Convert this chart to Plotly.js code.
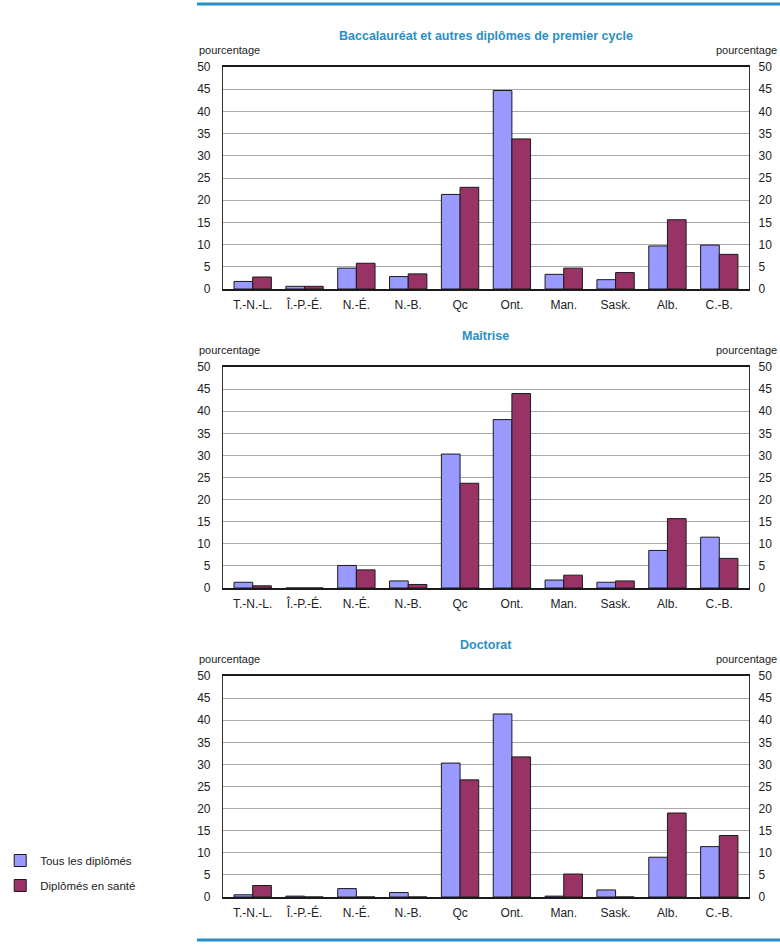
<!DOCTYPE html>
<html>
<head>
<meta charset="utf-8">
<script src="https://cdn.plot.ly/plotly-3.0.1.min.js"></script>
<style>
  html, body { margin: 0; padding: 0; background: #ffffff; }
  #chart { width: 780px; height: 945px; }
</style>
</head>
<body>
<div id="chart"></div>
<script>
// Provinces (abbreviations in French)
const provinces = ["T.-N.-L.", "Î.-P.-É.", "N.-É.", "N.-B.", "Qc", "Ont.", "Man.", "Sask.", "Alb.", "C.-B."];

// Share of graduates by province, per cent
const bacTous    = [1.7, 0.6, 4.7, 2.8, 21.3, 44.7, 3.3, 2.1, 9.7, 9.9];
const bacSante   = [2.7, 0.6, 5.8, 3.4, 22.9, 33.8, 4.7, 3.7, 15.6, 7.8];
const maiTous    = [1.3, 0.0, 5.1, 1.6, 30.3, 38.1, 1.8, 1.3, 8.5, 11.5];
const maiSante   = [0.5, 0.0, 4.1, 0.8, 23.7, 44.0, 2.9, 1.6, 15.7, 6.7];
const docTous    = [0.5, 0.2, 1.9, 1.0, 30.3, 41.4, 0.2, 1.6, 9.0, 11.4];
const docSante   = [2.6, 0.0, 0.0, 0.0, 26.5, 31.7, 5.2, 0.0, 19.0, 13.9];

const seriesNames = ["Tous les diplômés", "Diplômés en santé"];
const panelTitles = ["Baccalauréat et autres diplômes de premier cycle", "Maîtrise", "Doctorat"];
const yTitle = "pourcentage";
const yTicks = [0, 5, 10, 15, 20, 25, 30, 35, 40, 45, 50];

const BLUE = "#9999ff";
const PLUM = "#993366";
const ACCENT = "#2a8fc4";
const FONT = "Liberation Sans, Arial, sans-serif";

const W = 780, H = 945;
const px = v => v / W;          // horizontal pixel -> paper
const py = v => 1 - v / H;      // vertical pixel (from top) -> paper

// plot boxes: [top, bottom] in pixels from the top of the page
const boxes = [[67, 289], [367, 588], [676, 897]];
const xDom = [px(214), px(748)];

const panels = [
  [bacTous, bacSante],
  [maiTous, maiSante],
  [docTous, docSante]
];

const traces = [];
panels.forEach((pair, i) => {
  const sfx = i === 0 ? "" : String(i + 1);
  pair.forEach((vals, j) => {
    traces.push({
      type: "bar",
      x: provinces,
      y: vals,
      name: seriesNames[j],
      legendgroup: "g" + j,
      showlegend: i === 0,
      xaxis: "x" + sfx,
      yaxis: "y" + sfx,
      marker: { color: j === 0 ? BLUE : PLUM, line: { color: "#1a1a1a", width: 1 } },
      hoverinfo: "x+y+name"
    });
  });
  // transparent companion trace so the right-hand percentage scale is rendered
  traces.push({
    type: "scatter",
    mode: "markers",
    x: provinces,
    y: pair[0],
    xaxis: "x" + sfx,
    yaxis: "y" + (i + 4),
    marker: { opacity: 0, size: 1 },
    showlegend: false,
    hoverinfo: "skip"
  });
});

const layout = {
  width: W, height: H,
  margin: { l: 0, r: 0, t: 0, b: 0 },
  paper_bgcolor: "#ffffff",
  plot_bgcolor: "#ffffff",
  barmode: "group",
  bargap: 0.28,
  bargroupgap: 0,
  font: { family: FONT, size: 11, color: "#222222" },
  showlegend: true,
  legend: {
    x: px(-13), y: py(846), xanchor: "left", yanchor: "top",
    bgcolor: "rgba(0,0,0,0)",
    font: { family: FONT, size: 11.5, color: "#222222" },
    tracegroupgap: 6,
    traceorder: "grouped"
  },
  shapes: [
    { type: "line", xref: "paper", yref: "paper", x0: px(187), x1: 1, y0: py(4), y1: py(4),
      line: { color: ACCENT, width: 3 } },
    { type: "line", xref: "paper", yref: "paper", x0: px(187), x1: 1, y0: py(940), y1: py(940),
      line: { color: ACCENT, width: 3 } }
  ],
  annotations: []
};

boxes.forEach((b, i) => {
  const n = i + 1;
  const sfx = i === 0 ? "" : String(n);
  const rightId = i + 4;
  const yDom = [py(b[1]), py(b[0])];

  layout["xaxis" + sfx] = {
    domain: xDom,
    anchor: "y" + sfx,
    type: "category",
    showgrid: false,
    showline: true, linecolor: "#1a1a1a", linewidth: 2, mirror: true,
    ticks: "", ticklabelstandoff: 4,
    tickfont: { family: FONT, size: 12, color: "#222222" },
    fixedrange: true
  };
  layout["yaxis" + sfx] = {
    domain: yDom,
    anchor: "x" + sfx,
    range: [0, 50],
    tickvals: yTicks,
    showgrid: true, gridcolor: "#a9a9a9", gridwidth: 1,
    zeroline: false,
    showline: true, linecolor: "#333333", linewidth: 1.5, mirror: true,
    ticks: "", ticklabelstandoff: 9,
    tickfont: { family: FONT, size: 12, color: "#222222" },
    fixedrange: true
  };
  layout["yaxis" + rightId] = {
    overlaying: "y" + sfx,
    anchor: "x" + sfx,
    side: "right",
    range: [0, 50],
    tickvals: yTicks,
    showgrid: false, zeroline: false, showline: false,
    ticks: "", ticklabelstandoff: 9,
    tickfont: { family: FONT, size: 12, color: "#222222" },
    fixedrange: true
  };

  // panel title
  layout.annotations.push({
    xref: "paper", yref: "paper", x: px(481), y: py(b[0] - 31),
    xanchor: "center", yanchor: "middle", showarrow: false,
    text: "<b>" + panelTitles[i] + "</b>",
    font: { family: FONT, size: 12.5, color: ACCENT }
  });
  // unit labels, left and right
  layout.annotations.push({
    xref: "paper", yref: "paper", x: px(187), y: py(b[0] - 17),
    xanchor: "left", yanchor: "middle", showarrow: false,
    text: yTitle, font: { family: FONT, size: 11, color: "#222222" }
  });
  layout.annotations.push({
    xref: "paper", yref: "paper", x: px(779), y: py(b[0] - 17),
    xanchor: "right", yanchor: "middle", showarrow: false,
    text: yTitle, font: { family: FONT, size: 11, color: "#222222" }
  });
});

Plotly.newPlot("chart", traces, layout, { displayModeBar: false, staticPlot: true });
</script>
</body>
</html>
